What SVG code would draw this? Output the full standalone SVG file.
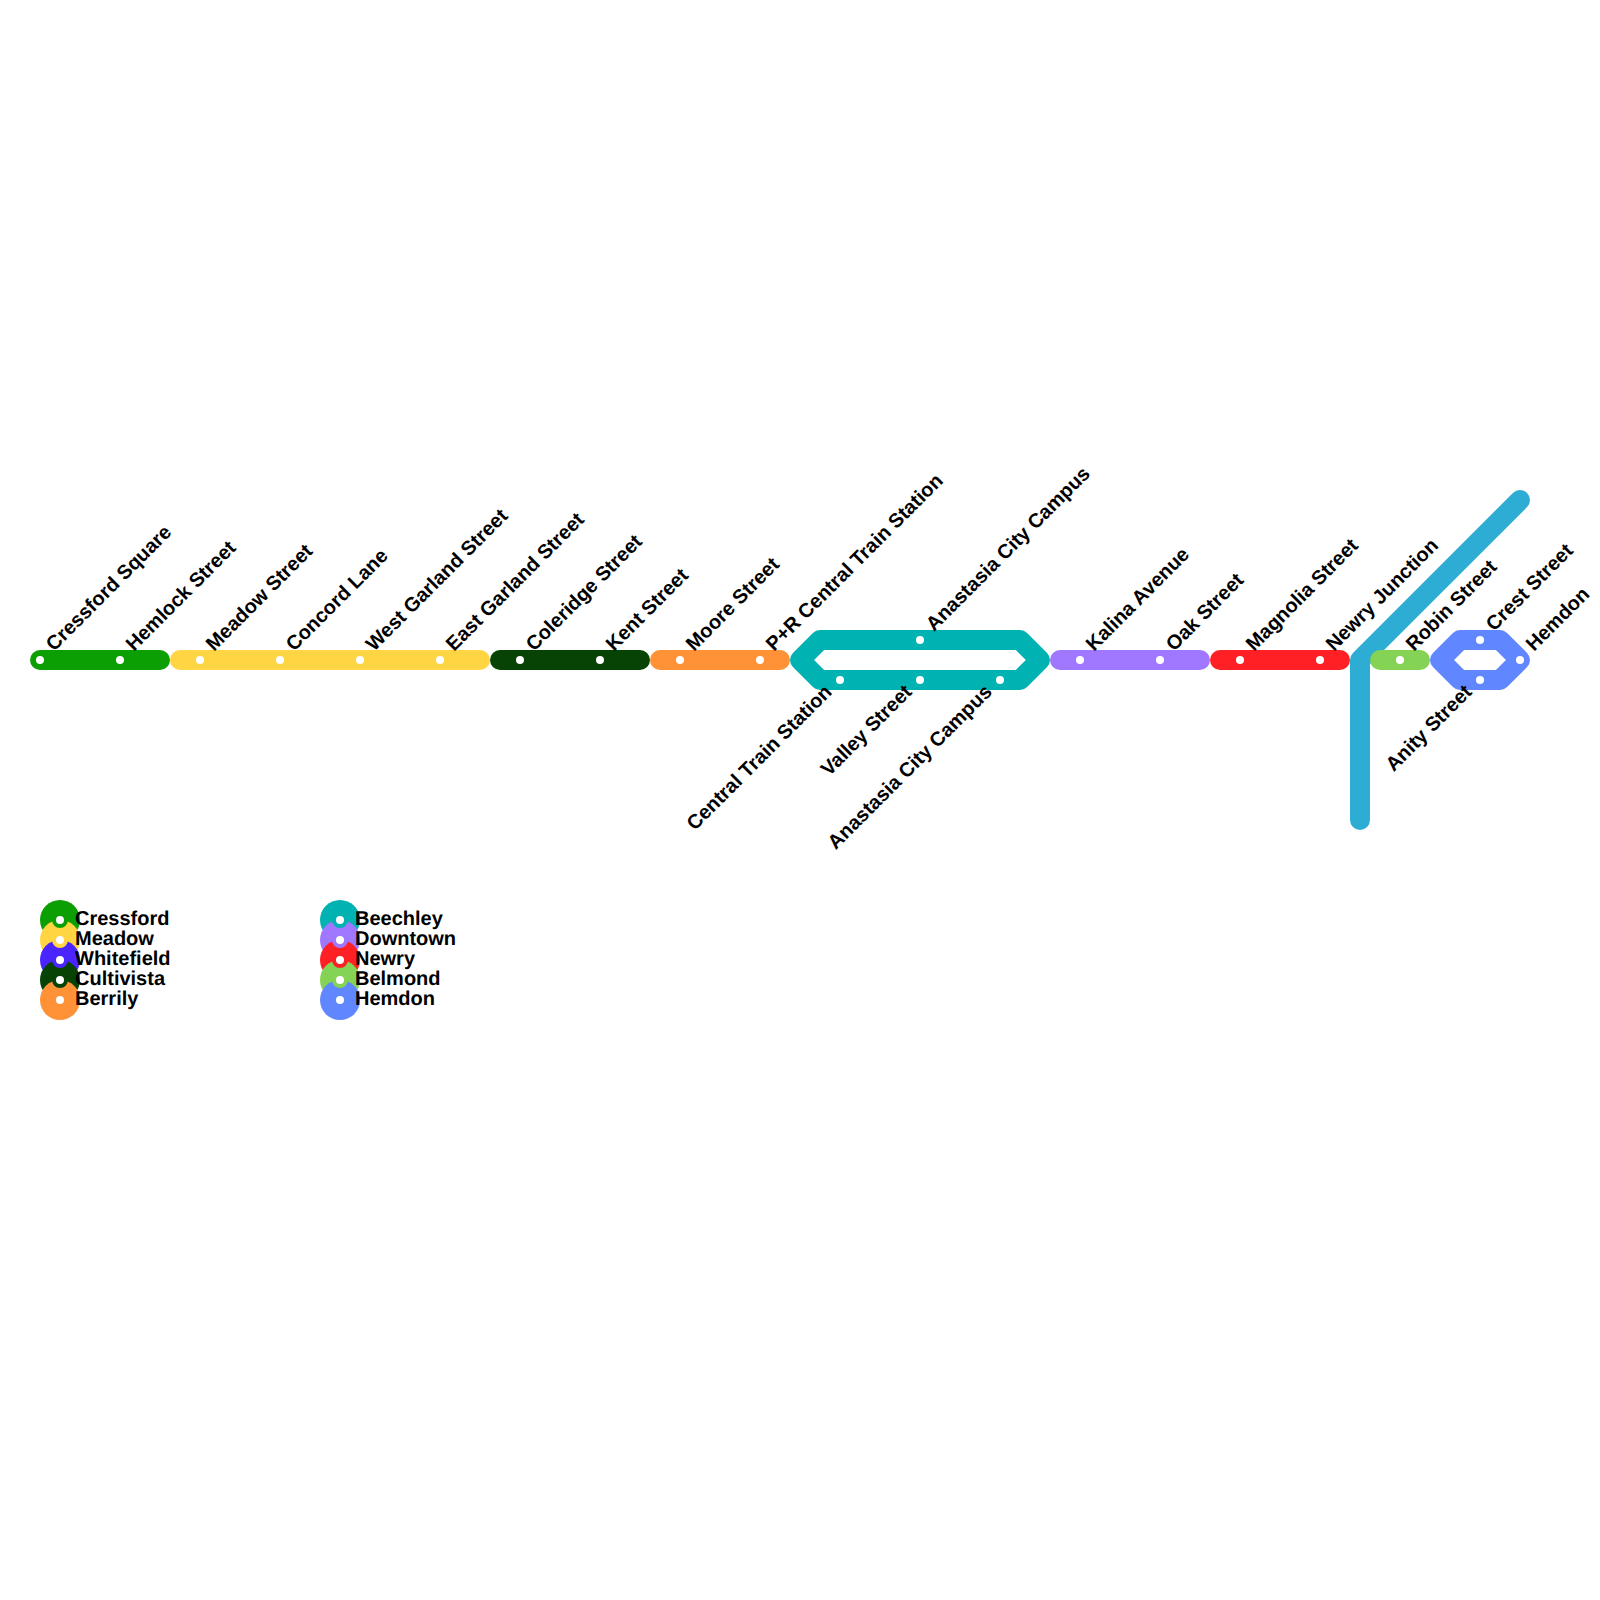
<svg xmlns="http://www.w3.org/2000/svg" width="1600" height="1600" viewBox="0 0 1600 1600">
<style>
.l{fill:none;stroke-width:20;stroke-linecap:round;stroke-linejoin:round}
.s{fill:#fff}
text{font-family:"Liberation Sans",Arial,sans-serif;font-size:20px;font-weight:bold;fill:#000;text-rendering:geometricPrecision}
</style>
<rect width="1600" height="1600" fill="#fff"/>
<g id="connectors">
<path class="l" stroke="#0c9f03" d="M40 660H160"/>
<path class="l" stroke="#ffd543" d="M180 660H480"/>
<path class="l" stroke="#074304" d="M500 660H640"/>
<path class="l" stroke="#ff9236" d="M660 660H780"/>
<path class="l" stroke="#00b2b2" d="M800 660L820 640H1020L1040 660L1020 680H820Z"/>
<path class="l" stroke="#a077ff" d="M1060 660H1200"/>
<path class="l" stroke="#ff2025" d="M1220 660H1340"/>
<path class="l" stroke="#2eadd4" d="M1360 820V660L1520 500"/>
<path class="l" stroke="#84d355" d="M1380 660H1420"/>
<path class="l" stroke="#6087ff" d="M1440 660L1460 640H1500L1520 660L1500 680H1460Z"/>
</g>
<g id="stations">
<g id="n1"><circle class="s" cx="40" cy="660" r="4"/><text transform="translate(54 652) rotate(-45)">Cressford Square</text></g>
<g id="n2"><circle class="s" cx="120" cy="660" r="4"/><text transform="translate(134 652) rotate(-45)">Hemlock Street</text></g>
<g id="n3"><circle class="s" cx="200" cy="660" r="4"/><text transform="translate(214 652) rotate(-45)">Meadow Street</text></g>
<g id="n4"><circle class="s" cx="280" cy="660" r="4"/><text transform="translate(294 652) rotate(-45)">Concord Lane</text></g>
<g id="n5"><circle class="s" cx="360" cy="660" r="4"/><text transform="translate(374 652) rotate(-45)">West Garland Street</text></g>
<g id="n6"><circle class="s" cx="440" cy="660" r="4"/><text transform="translate(454 652) rotate(-45)">East Garland Street</text></g>
<g id="n7"><circle class="s" cx="520" cy="660" r="4"/><text transform="translate(534 652) rotate(-45)">Coleridge Street</text></g>
<g id="n8"><circle class="s" cx="600" cy="660" r="4"/><text transform="translate(614 652) rotate(-45)">Kent Street</text></g>
<g id="n9"><circle class="s" cx="680" cy="660" r="4"/><text transform="translate(694 652) rotate(-45)">Moore Street</text></g>
<g id="n10"><circle class="s" cx="760" cy="660" r="4"/><text transform="translate(774 652) rotate(-45)">P+R Central Train Station</text></g>
<g id="n11"><circle class="s" cx="920" cy="640" r="4"/><text transform="translate(934 632) rotate(-45)">Anastasia City Campus</text></g>
<g id="n12"><circle class="s" cx="840" cy="680" r="4"/><text text-anchor="end" transform="translate(833 693) rotate(-45)">Central Train Station</text></g>
<g id="n13"><circle class="s" cx="920" cy="680" r="4"/><text text-anchor="end" transform="translate(913 693) rotate(-45)">Valley Street</text></g>
<g id="n14"><circle class="s" cx="1000" cy="680" r="4"/><text text-anchor="end" transform="translate(993 693) rotate(-45)">Anastasia City Campus</text></g>
<g id="n15"><circle class="s" cx="1080" cy="660" r="4"/><text transform="translate(1094 652) rotate(-45)">Kalina Avenue</text></g>
<g id="n16"><circle class="s" cx="1160" cy="660" r="4"/><text transform="translate(1174 652) rotate(-45)">Oak Street</text></g>
<g id="n17"><circle class="s" cx="1240" cy="660" r="4"/><text transform="translate(1254 652) rotate(-45)">Magnolia Street</text></g>
<g id="n18"><circle class="s" cx="1320" cy="660" r="4"/><text transform="translate(1334 652) rotate(-45)">Newry Junction</text></g>
<g id="n19"><circle class="s" cx="1400" cy="660" r="4"/><text transform="translate(1414 652) rotate(-45)">Robin Street</text></g>
<g id="n20"><circle class="s" cx="1480" cy="640" r="4"/><text transform="translate(1494 632) rotate(-45)">Crest Street</text></g>
<g id="n21"><circle class="s" cx="1480" cy="680" r="4"/><text text-anchor="end" transform="translate(1473 693) rotate(-45)">Anity Street</text></g>
<g id="n22"><circle class="s" cx="1520" cy="660" r="4"/><text transform="translate(1534 652) rotate(-45)">Hemdon</text></g>
</g>
<g id="legend">
<circle cx="60" cy="920" r="20" fill="#0c9f03"/><circle cx="60" cy="940" r="20" fill="#ffd543"/><circle cx="60" cy="960" r="20" fill="#4a25ff"/><circle cx="60" cy="980" r="20" fill="#074304"/><circle cx="60" cy="1000" r="20" fill="#ff9236"/>
<circle cx="60" cy="920" r="8" fill="#0c9f03"/><circle cx="60" cy="940" r="8" fill="#ffd543"/><circle cx="60" cy="960" r="8" fill="#4a25ff"/><circle cx="60" cy="980" r="8" fill="#074304"/><circle cx="60" cy="1000" r="8" fill="#ff9236"/>
<circle cx="340" cy="920" r="20" fill="#00b2b2"/><circle cx="340" cy="940" r="20" fill="#a077ff"/><circle cx="340" cy="960" r="20" fill="#ff2025"/><circle cx="340" cy="980" r="20" fill="#84d355"/><circle cx="340" cy="1000" r="20" fill="#6087ff"/>
<circle cx="340" cy="920" r="8" fill="#00b2b2"/><circle cx="340" cy="940" r="8" fill="#a077ff"/><circle cx="340" cy="960" r="8" fill="#ff2025"/><circle cx="340" cy="980" r="8" fill="#84d355"/><circle cx="340" cy="1000" r="8" fill="#6087ff"/>
<g class="s"><circle cx="60" cy="920" r="4"/><circle cx="60" cy="940" r="4"/><circle cx="60" cy="960" r="4"/><circle cx="60" cy="980" r="4"/><circle cx="60" cy="1000" r="4"/><circle cx="340" cy="920" r="4"/><circle cx="340" cy="940" r="4"/><circle cx="340" cy="960" r="4"/><circle cx="340" cy="980" r="4"/><circle cx="340" cy="1000" r="4"/></g>
<text x="75" y="925">Cressford</text><text x="75" y="945">Meadow</text><text x="75" y="965">Whitefield</text><text x="75" y="985">Cultivista</text><text x="75" y="1005">Berrily</text>
<text x="355" y="925">Beechley</text><text x="355" y="945">Downtown</text><text x="355" y="965">Newry</text><text x="355" y="985">Belmond</text><text x="355" y="1005">Hemdon</text>
</g>
</svg>
